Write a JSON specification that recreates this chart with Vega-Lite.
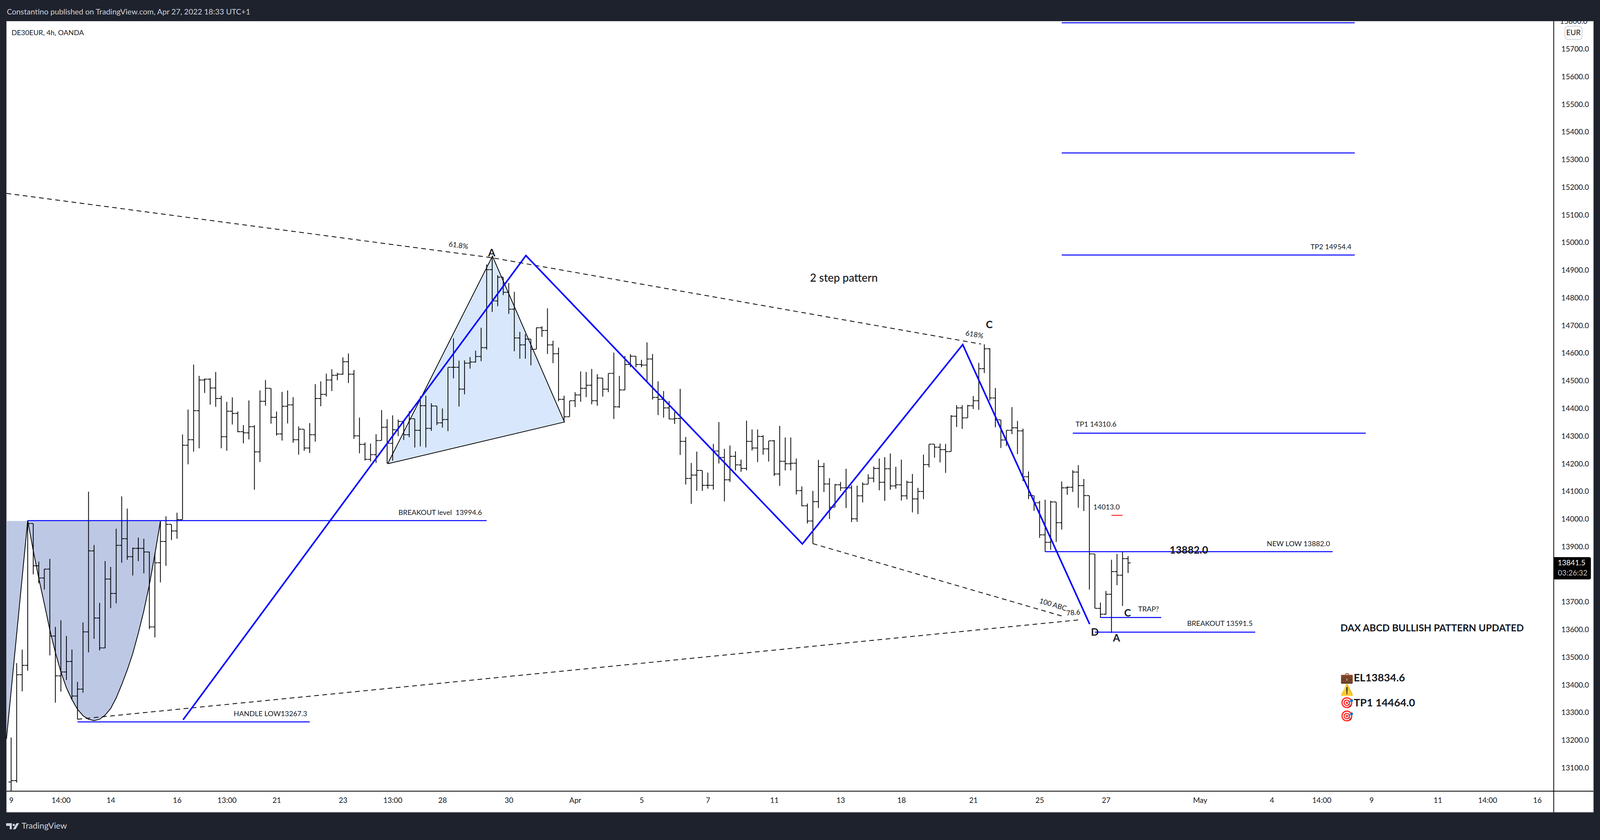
{
  "$schema": "https://vega.github.io/schema/vega-lite/v6.json",
  "width": "container",
  "height": 2150,
  "autosize": {"type": "fit-x", "contains": "padding"},
  "padding": 0,
  "background": "#1e222d",
  "view": {"stroke": null},
  "params": [{"name": "k", "expr": "width/4948"}],
  "config": {"text": {"font": "Lato", "color": "#131722"}},
  "datasets": {
    "bars": [
      {"t":0,"o":13049,"h":13210,"l":13017,"c":13054},{"t":1,"o":13054,"h":13479,"l":13047,"c":13437},{"t":2,"o":13437,"h":13528,"l":13377,"c":13471},{"t":3,"o":13471,"h":13993,"l":13452,"c":13984},{"t":4,"o":13984,"h":13984,"l":13800,"c":13831},{"t":5,"o":13831,"h":13846,"l":13768,"c":13787},{"t":6,"o":13787,"h":13820,"l":13745,"c":13819},{"t":7,"o":13819,"h":13856,"l":13507,"c":13577},{"t":8,"o":13577,"h":13610,"l":13336,"c":13433},{"t":9,"o":13433,"h":13634,"l":13376,"c":13447},
      {"t":10,"o":13447,"h":13577,"l":13418,"c":13485},{"t":11,"o":13485,"h":13528,"l":13348,"c":13360},{"t":12,"o":13360,"h":13411,"l":13276,"c":13385},{"t":13,"o":13385,"h":13626,"l":13372,"c":13592},{"t":14,"o":13592,"h":14099,"l":13518,"c":13885},{"t":15,"o":13885,"h":13906,"l":13567,"c":13642},{"t":16,"o":13642,"h":13697,"l":13525,"c":13534},{"t":17,"o":13534,"h":13848,"l":13533,"c":13783},{"t":18,"o":13783,"h":13827,"l":13678,"c":13731},{"t":19,"o":13731,"h":13965,"l":13695,"c":13905},
      {"t":20,"o":13905,"h":14082,"l":13842,"c":13929},{"t":21,"o":13929,"h":14038,"l":13853,"c":13864},{"t":22,"o":13864,"h":13897,"l":13796,"c":13894},{"t":23,"o":13894,"h":13933,"l":13848,"c":13894},{"t":24,"o":13894,"h":13929,"l":13804,"c":13881},{"t":25,"o":13881,"h":13882,"l":13602,"c":13610},{"t":26,"o":13610,"h":13877,"l":13572,"c":13842},{"t":27,"o":13842,"h":13992,"l":13771,"c":13919},{"t":28,"o":13919,"h":14010,"l":13831,"c":13981},{"t":29,"o":13981,"h":13981,"l":13924,"c":13957},
      {"t":30,"o":13957,"h":14023,"l":13929,"c":13998},{"t":31,"o":13998,"h":14306,"l":13998,"c":14267},{"t":32,"o":14267,"h":14396,"l":14198,"c":14287},{"t":33,"o":14287,"h":14559,"l":14244,"c":14392},{"t":34,"o":14392,"h":14518,"l":14256,"c":14503},{"t":35,"o":14503,"h":14508,"l":14456,"c":14506},{"t":36,"o":14506,"h":14509,"l":14414,"c":14474},{"t":37,"o":14474,"h":14532,"l":14406,"c":14436},{"t":38,"o":14436,"h":14446,"l":14256,"c":14298},{"t":39,"o":14298,"h":14424,"l":14247,"c":14390},
      {"t":40,"o":14390,"h":14440,"l":14342,"c":14382},{"t":41,"o":14382,"h":14389,"l":14314,"c":14316},{"t":42,"o":14316,"h":14340,"l":14274,"c":14312},{"t":43,"o":14312,"h":14429,"l":14288,"c":14334},{"t":44,"o":14334,"h":14340,"l":14106,"c":14243},{"t":45,"o":14243,"h":14465,"l":14206,"c":14426},{"t":46,"o":14426,"h":14503,"l":14410,"c":14473},{"t":47,"o":14473,"h":14473,"l":14345,"c":14368},{"t":48,"o":14368,"h":14389,"l":14302,"c":14308},{"t":49,"o":14308,"h":14460,"l":14284,"c":14408},
      {"t":50,"o":14408,"h":14465,"l":14346,"c":14413},{"t":51,"o":14413,"h":14441,"l":14276,"c":14287},{"t":52,"o":14287,"h":14335,"l":14233,"c":14325},{"t":53,"o":14325,"h":14325,"l":14247,"c":14257},{"t":54,"o":14257,"h":14347,"l":14239,"c":14305},{"t":55,"o":14305,"h":14488,"l":14280,"c":14436},{"t":56,"o":14436,"h":14498,"l":14408,"c":14451},{"t":57,"o":14451,"h":14526,"l":14443,"c":14503},{"t":58,"o":14503,"h":14542,"l":14463,"c":14520},{"t":59,"o":14520,"h":14529,"l":14502,"c":14524},
      {"t":60,"o":14524,"h":14585,"l":14522,"c":14569},{"t":61,"o":14569,"h":14599,"l":14492,"c":14524},{"t":62,"o":14524,"h":14539,"l":14290,"c":14301},{"t":63,"o":14301,"h":14367,"l":14238,"c":14270},{"t":64,"o":14270,"h":14277,"l":14212,"c":14216},{"t":65,"o":14216,"h":14273,"l":14208,"c":14233},{"t":66,"o":14233,"h":14307,"l":14203,"c":14284},{"t":67,"o":14284,"h":14394,"l":14284,"c":14332},{"t":68,"o":14332,"h":14361,"l":14201,"c":14274},{"t":69,"o":14274,"h":14375,"l":14211,"c":14323},
      {"t":70,"o":14323,"h":14360,"l":14300,"c":14353},{"t":71,"o":14353,"h":14353,"l":14286,"c":14305},{"t":72,"o":14305,"h":14390,"l":14296,"c":14363},{"t":73,"o":14363,"h":14363,"l":14259,"c":14321},{"t":74,"o":14321,"h":14444,"l":14263,"c":14410},{"t":75,"o":14410,"h":14446,"l":14259,"c":14328},{"t":76,"o":14328,"h":14419,"l":14319,"c":14409},{"t":77,"o":14409,"h":14409,"l":14340,"c":14348},{"t":78,"o":14348,"h":14400,"l":14331,"c":14360},{"t":79,"o":14360,"h":14549,"l":14318,"c":14549},
      {"t":80,"o":14549,"h":14654,"l":14509,"c":14549},{"t":81,"o":14549,"h":14573,"l":14407,"c":14470},{"t":82,"o":14470,"h":14574,"l":14451,"c":14564},{"t":83,"o":14564,"h":14586,"l":14544,"c":14568},{"t":84,"o":14568,"h":14609,"l":14566,"c":14588},{"t":85,"o":14588,"h":14692,"l":14571,"c":14620},{"t":86,"o":14620,"h":14921,"l":14613,"c":14902},{"t":87,"o":14902,"h":14951,"l":14749,"c":14789},{"t":88,"o":14789,"h":14882,"l":14770,"c":14875},{"t":89,"o":14875,"h":14875,"l":14810,"c":14820},
      {"t":90,"o":14820,"h":14854,"l":14742,"c":14759},{"t":91,"o":14759,"h":14822,"l":14607,"c":14655},{"t":92,"o":14655,"h":14677,"l":14580,"c":14630},{"t":93,"o":14630,"h":14669,"l":14580,"c":14651},{"t":94,"o":14651,"h":14651,"l":14556,"c":14614},{"t":95,"o":14614,"h":14693,"l":14614,"c":14692},{"t":96,"o":14692,"h":14697,"l":14659,"c":14682},{"t":97,"o":14682,"h":14762,"l":14597,"c":14630},{"t":98,"o":14630,"h":14645,"l":14564,"c":14598},{"t":99,"o":14598,"h":14620,"l":14426,"c":14433},
      {"t":100,"o":14433,"h":14446,"l":14351,"c":14370},{"t":101,"o":14370,"h":14428,"l":14370,"c":14428},{"t":102,"o":14428,"h":14459,"l":14405,"c":14449},{"t":103,"o":14449,"h":14534,"l":14424,"c":14473},{"t":104,"o":14473,"h":14532,"l":14441,"c":14484},{"t":105,"o":14484,"h":14543,"l":14415,"c":14428},{"t":106,"o":14428,"h":14524,"l":14410,"c":14510},{"t":107,"o":14510,"h":14510,"l":14443,"c":14470},{"t":108,"o":14470,"h":14527,"l":14459,"c":14527},{"t":109,"o":14527,"h":14602,"l":14362,"c":14406},
      {"t":110,"o":14406,"h":14518,"l":14402,"c":14467},{"t":111,"o":14467,"h":14590,"l":14466,"c":14559},{"t":112,"o":14559,"h":14596,"l":14549,"c":14589},{"t":113,"o":14589,"h":14589,"l":14549,"c":14559},{"t":114,"o":14559,"h":14576,"l":14549,"c":14557},{"t":115,"o":14557,"h":14639,"l":14497,"c":14579},{"t":116,"o":14579,"h":14597,"l":14432,"c":14440},{"t":117,"o":14440,"h":14498,"l":14376,"c":14433},{"t":118,"o":14433,"h":14463,"l":14367,"c":14402},{"t":119,"o":14402,"h":14427,"l":14361,"c":14362},
      {"t":120,"o":14362,"h":14387,"l":14344,"c":14364},{"t":121,"o":14364,"h":14471,"l":14232,"c":14281},{"t":122,"o":14281,"h":14297,"l":14125,"c":14147},{"t":123,"o":14147,"h":14203,"l":14055,"c":14159},{"t":124,"o":14159,"h":14244,"l":14102,"c":14176},{"t":125,"o":14176,"h":14176,"l":14102,"c":14122},{"t":126,"o":14122,"h":14168,"l":14110,"c":14122},{"t":127,"o":14122,"h":14272,"l":14106,"c":14246},{"t":128,"o":14246,"h":14351,"l":14201,"c":14223},{"t":129,"o":14223,"h":14254,"l":14064,"c":14142},
      {"t":130,"o":14142,"h":14266,"l":14134,"c":14227},{"t":131,"o":14227,"h":14245,"l":14176,"c":14196},{"t":132,"o":14196,"h":14215,"l":14171,"c":14183},{"t":133,"o":14183,"h":14356,"l":14176,"c":14281},{"t":134,"o":14281,"h":14324,"l":14248,"c":14257},{"t":135,"o":14257,"h":14324,"l":14206,"c":14299},{"t":136,"o":14299,"h":14303,"l":14233,"c":14254},{"t":137,"o":14254,"h":14283,"l":14208,"c":14283},{"t":138,"o":14283,"h":14286,"l":14156,"c":14163},{"t":139,"o":14163,"h":14337,"l":14120,"c":14209},
      {"t":140,"o":14209,"h":14295,"l":14176,"c":14200},{"t":141,"o":14200,"h":14295,"l":14176,"c":14202},{"t":142,"o":14202,"h":14219,"l":14089,"c":14103},{"t":143,"o":14103,"h":14118,"l":14046,"c":14048},{"t":144,"o":14048,"h":14056,"l":13984,"c":13993},{"t":145,"o":13993,"h":14102,"l":13911,"c":14063},{"t":146,"o":14063,"h":14214,"l":14040,"c":14190},{"t":147,"o":14190,"h":14203,"l":14098,"c":14127},{"t":148,"o":14127,"h":14148,"l":14000,"c":14043},{"t":149,"o":14043,"h":14127,"l":14043,"c":14124},
      {"t":150,"o":14124,"h":14134,"l":14102,"c":14113},{"t":151,"o":14113,"h":14182,"l":14040,"c":14113},{"t":152,"o":14113,"h":14122,"l":13989,"c":14001},{"t":153,"o":14001,"h":14121,"l":13990,"c":14084},{"t":154,"o":14084,"h":14133,"l":14060,"c":14126},{"t":155,"o":14126,"h":14162,"l":14126,"c":14148},{"t":156,"o":14148,"h":14190,"l":14133,"c":14183},{"t":157,"o":14183,"h":14219,"l":14104,"c":14133},{"t":158,"o":14133,"h":14224,"l":14066,"c":14182},{"t":159,"o":14182,"h":14237,"l":14106,"c":14120},
      {"t":160,"o":14120,"h":14189,"l":14110,"c":14124},{"t":161,"o":14124,"h":14215,"l":14067,"c":14084},{"t":162,"o":14084,"h":14139,"l":14071,"c":14133},{"t":163,"o":14133,"h":14163,"l":14024,"c":14073},{"t":164,"o":14073,"h":14113,"l":14018,"c":14100},{"t":165,"o":14100,"h":14233,"l":14072,"c":14197},{"t":166,"o":14197,"h":14271,"l":14187,"c":14271},{"t":167,"o":14271,"h":14271,"l":14222,"c":14260},{"t":168,"o":14260,"h":14273,"l":14205,"c":14251},{"t":169,"o":14251,"h":14272,"l":14167,"c":14244},
      {"t":170,"o":14244,"h":14376,"l":14244,"c":14372},{"t":171,"o":14372,"h":14412,"l":14333,"c":14402},{"t":172,"o":14402,"h":14412,"l":14326,"c":14366},{"t":173,"o":14366,"h":14413,"l":14366,"c":14410},{"t":174,"o":14410,"h":14445,"l":14398,"c":14428},{"t":175,"o":14428,"h":14565,"l":14395,"c":14544},{"t":176,"o":14544,"h":14632,"l":14528,"c":14616},{"t":177,"o":14616,"h":14618,"l":14429,"c":14438},{"t":178,"o":14438,"h":14474,"l":14332,"c":14359},{"t":179,"o":14359,"h":14359,"l":14257,"c":14286},
      {"t":180,"o":14286,"h":14322,"l":14264,"c":14321},{"t":181,"o":14321,"h":14405,"l":14307,"c":14330},{"t":182,"o":14330,"h":14355,"l":14235,"c":14319},{"t":183,"o":14319,"h":14327,"l":14137,"c":14153},{"t":184,"o":14153,"h":14172,"l":14072,"c":14085},{"t":185,"o":14085,"h":14085,"l":14030,"c":14059},{"t":186,"o":14059,"h":14066,"l":13932,"c":13943},{"t":187,"o":13943,"h":14070,"l":13882,"c":13916},{"t":188,"o":13916,"h":14066,"l":13889,"c":14062},{"t":189,"o":14062,"h":14062,"l":13917,"c":13987},
      {"t":190,"o":13987,"h":14136,"l":13962,"c":14113},{"t":191,"o":14113,"h":14118,"l":14088,"c":14115},{"t":192,"o":14115,"h":14177,"l":14098,"c":14170},{"t":193,"o":14170,"h":14195,"l":14041,"c":14121},{"t":194,"o":14121,"h":14145,"l":14029,"c":14085},{"t":195,"o":14085,"h":14085,"l":13745,"c":13874},{"t":196,"o":13874,"h":13874,"l":13677,"c":13677},{"t":197,"o":13677,"h":13698,"l":13643,"c":13656},{"t":198,"o":13656,"h":13740,"l":13654,"c":13728},{"t":199,"o":13728,"h":13853,"l":13588,"c":13810},
      {"t":200,"o":13810,"h":13874,"l":13761,"c":13797},{"t":201,"o":13797,"h":13881,"l":13686,"c":13857},{"t":202,"o":13857,"h":13866,"l":13805,"c":13841.5}
    ],
    "cup": [
      {"t":-0.84,"p":13205,"top":13993},{"t":3,"p":13995,"top":13993},{"t":4,"p":13886,"top":13993},{"t":5,"p":13786,"top":13993},{"t":6,"p":13694,"top":13993},{"t":7,"p":13599,"top":13993},{"t":8,"p":13518,"top":13993},{"t":9,"p":13447,"top":13993},{"t":10,"p":13390,"top":13993},{"t":11,"p":13347,"top":13993},{"t":12,"p":13312,"top":13993},{"t":13,"p":13289,"top":13993},{"t":14,"p":13276,"top":13993},{"t":15,"p":13271,"top":13993},{"t":16,"p":13276,"top":13993},{"t":17,"p":13291,"top":13993},{"t":18,"p":13315,"top":13993},{"t":19,"p":13353,"top":13993},{"t":20,"p":13401,"top":13993},{"t":21,"p":13454,"top":13993},{"t":22,"p":13514,"top":13993},{"t":23,"p":13587,"top":13993},{"t":24,"p":13668,"top":13993},{"t":25,"p":13762,"top":13993},{"t":26,"p":13873,"top":13993},{"t":27,"p":13992,"top":13993}
    ],
    "triangleFill": [
      {"t":68.1,"p":14200,"top":14200},{"t":87.05,"p":14290,"top":14951},{"t":100.07,"p":14351,"top":14351}
    ],
    "triangleEdge": [
      {"seq":0,"t":68.1,"p":14200},{"seq":1,"t":87.05,"p":14951},{"seq":2,"t":100.07,"p":14351},{"seq":3,"t":68.1,"p":14200}
    ],
    "trend": [
      {"name":"upper","seq":0,"t":-0.84,"p":15178},{"name":"upper","seq":1,"t":87,"p":14945},{"name":"upper","seq":2,"t":175.4,"p":14633},
      {"name":"lower","seq":0,"t":145,"p":13911},{"name":"lower","seq":1,"t":190.6,"p":13646},
      {"name":"rising","seq":0,"t":12,"p":13276},{"name":"rising","seq":1,"t":193.4,"p":13636}
    ],
    "zigzag": [
      {"seq":0,"t":31.1,"p":13274},{"seq":1,"t":93.1,"p":14953},{"seq":2,"t":143.1,"p":13910},{"seq":3,"t":172.1,"p":14631},{"seq":4,"t":195.05,"p":13620}
    ],
    "levels": [
      {"t":3,"t2":86,"p":13994.6},{"t":12,"t2":54,"p":13266.5},{"t":190,"t2":243,"p":15795},{"t":190,"t2":243,"p":15324},{"t":190,"t2":243,"p":14955},{"t":192,"t2":245,"p":14310.6},{"t":187,"t2":239,"p":13882},{"t":197,"t2":208,"p":13644},{"t":196,"t2":225,"p":13591}
    ],
    "notes": [
      {"label":"HANDLE LOW13267.3","t":46.9,"p":13294},{"label":"BREAKOUT level \u00a013994.6","t":77.6,"p":14022},{"label":"TP1 14310.6","t":196.2,"p":14341},{"label":"TP2 14954.4","t":238.7,"p":14983.5},{"label":"14013.0","t":198.1,"p":14042},{"label":"NEW LOW 13882.0","t":232.8,"p":13909},{"label":"TRAP?","t":205.7,"p":13673},{"label":"BREAKOUT 13591.5","t":218.6,"p":13620}
    ],
    "points": [
      {"label":"A","t":86.9,"p":14962},{"label":"C","t":176.9,"p":14701},{"label":"D","t":196,"p":13590},{"label":"A","t":199.9,"p":13568},{"label":"C","t":201.9,"p":13659},{"label":"13882.0","t":213,"p":13886}
    ],
    "setup": [
      {"label":"💼EL13834.6","t":240.4,"p":13424},{"label":"⚠️","t":240.4,"p":13380.5},{"label":"🎯TP1 14464.0","t":240.4,"p":13334},{"label":"🎯","t":240.4,"p":13286}
    ]
  },
  "encoding": {
    "x": {
      "field": "t",
      "type": "quantitative",
      "scale": {"domain": [-2.012, 287.35], "nice": false, "zero": false},
      "axis": {
        "title": null,
        "orient": "bottom",
        "offset": -125,
        "domain": false,
        "grid": false,
        "ticks": false,
        "zindex": 1,
        "labelFont": "Lato",
        "labelFontSize": {"expr": "23*k"},
        "labelColor": "#131722",
        "labelPadding": 14,
        "labelFlush": false,
        "labelOverlap": false,
        "values": [0, 9, 18, 30, 39, 48, 60, 69, 78, 90, 102, 114, 126, 138, 150, 161, 174, 186, 198, 215, 228, 237, 246, 258, 267, 276],
        "labelExpr": "{'0':'9','9':'14:00','18':'14','30':'16','39':'13:00','48':'21','60':'23','69':'13:00','78':'28','90':'30','102':'Apr','114':'5','126':'7','138':'11','150':'13','161':'18','174':'21','186':'25','198':'27','215':'May','228':'4','237':'14:00','246':'9','258':'11','267':'14:00','276':'16'}[datum.value]"
      }
    },
    "y": {
      "field": "p",
      "type": "quantitative",
      "scale": {"domain": [12839.3, 15877.3], "nice": false, "zero": false},
      "axis": {"title": null, "orient": "right", "offset": {"expr": "-143*width/4948"}, "domain": false, "grid": false, "ticks": false, "zindex": 1, "labelFont": "Lato", "labelFontSize": {"expr": "23*k"}, "labelColor": "#131722", "labelPadding": 19, "labelFlush": false, "labelOverlap": false, "format": ".1f", "values": [13100, 13200, 13300, 13400, 13500, 13600, 13700, 13900, 14000, 14100, 14200, 14300, 14400, 14500, 14600, 14700, 14800, 14900, 15000, 15100, 15200, 15300, 15400, 15500, 15600, 15700]}
    }
  },
  "layer": [
    {
      "data": {"values": [{"t": -0.842, "t2": 286.17, "p": 12939.6, "p2": 15801}]},
      "mark": {"type": "rect", "fill": "#ffffff", "stroke": "#9598a1", "strokeWidth": 1, "opacity": 1},
      "encoding": {"x2": {"field": "t2"}, "y2": {"field": "p2"}}
    },
    {
      "data": {"values": [{"label": "15800.0", "t": 280.09, "p": 15800}]},
      "mark": {"type": "text", "fontSize": {"expr": "23*k"}, "align": "left"},
      "encoding": {"text": {"field": "label"}}
    },
    {
      "data": {"values": [{"t": -2.012, "t2": 287.35, "p": 15801, "p2": 15877.3}]},
      "mark": {"type": "rect", "color": "#1e222d", "opacity": 1},
      "encoding": {"x2": {"field": "t2"}, "y2": {"field": "p2"}}
    },
    {
      "data": {"values": [{"t": -0.842, "t2": 286.17, "p": 13016}]},
      "mark": {"type": "rule", "color": "#000000", "strokeWidth": 2},
      "encoding": {"x2": {"field": "t2"}}
    },
    {
      "data": {"values": [{"t": 278.98, "p": 12939.6, "p2": 15801}]},
      "mark": {"type": "rule", "color": "#000000", "strokeWidth": 2},
      "encoding": {"y2": {"field": "p2"}}
    },
    {
      "data": {"name": "cup"},
      "mark": {"type": "area", "color": "#bdc8e4", "opacity": 1},
      "encoding": {"y2": {"field": "top"}}
    },
    {
      "data": {"name": "triangleFill"},
      "mark": {"type": "area", "color": "#d8e7fb", "opacity": 1},
      "encoding": {"y2": {"field": "top"}}
    },
    {
      "data": {"name": "cup"},
      "mark": {"type": "line", "color": "#000000", "strokeWidth": 2, "interpolate": "linear"}
    },
    {
      "data": {"name": "triangleEdge"},
      "mark": {"type": "line", "color": "#000000", "strokeWidth": 2},
      "encoding": {"order": {"field": "seq"}}
    },
    {
      "data": {"name": "trend"},
      "mark": {"type": "line", "color": "#000000", "strokeWidth": 2, "strokeDash": [12, 9]},
      "encoding": {"detail": {"field": "name"}, "order": {"field": "seq"}}
    },
    {
      "data": {"name": "bars"},
      "mark": {"type": "rule", "color": "#000000", "strokeWidth": 2},
      "encoding": {
        "y": {"field": "h", "type": "quantitative", "scale": {"domain": [12839.3, 15877.3], "nice": false, "zero": false},
          "axis": {"title": null, "orient": "right", "offset": {"expr": "-143*width/4948"}, "domain": false, "grid": false, "ticks": false, "zindex": 1, "labelFont": "Lato", "labelFontSize": {"expr": "23*k"}, "labelColor": "#131722", "labelPadding": 19, "labelFlush": false, "labelOverlap": false, "format": ".1f", "values": [13100, 13200, 13300, 13400, 13500, 13600, 13700, 13900, 14000, 14100, 14200, 14300, 14400, 14500, 14600, 14700, 14800, 14900, 15000, 15100, 15200, 15300, 15400, 15500, 15600, 15700]}},
        "y2": {"field": "l"}
      }
    },
    {
      "data": {"name": "bars"},
      "mark": {"type": "tick", "orient": "horizontal", "color": "#000000", "size": {"expr": "7*k"}, "thickness": 2, "xOffset": {"expr": "-4.5*k"}, "opacity": 1},
      "encoding": {
        "y": {"field": "o", "type": "quantitative", "scale": {"domain": [12839.3, 15877.3], "nice": false, "zero": false},
          "axis": {"title": null, "orient": "right", "offset": {"expr": "-143*width/4948"}, "domain": false, "grid": false, "ticks": false, "zindex": 1, "labelFont": "Lato", "labelFontSize": {"expr": "23*k"}, "labelColor": "#131722", "labelPadding": 19, "labelFlush": false, "labelOverlap": false, "format": ".1f", "values": [13100, 13200, 13300, 13400, 13500, 13600, 13700, 13900, 14000, 14100, 14200, 14300, 14400, 14500, 14600, 14700, 14800, 14900, 15000, 15100, 15200, 15300, 15400, 15500, 15600, 15700]}}
      }
    },
    {
      "data": {"name": "bars"},
      "mark": {"type": "tick", "orient": "horizontal", "color": "#000000", "size": {"expr": "7*k"}, "thickness": 2, "xOffset": {"expr": "4.5*k"}, "opacity": 1},
      "encoding": {
        "y": {"field": "c", "type": "quantitative", "scale": {"domain": [12839.3, 15877.3], "nice": false, "zero": false},
          "axis": {"title": null, "orient": "right", "offset": {"expr": "-143*width/4948"}, "domain": false, "grid": false, "ticks": false, "zindex": 1, "labelFont": "Lato", "labelFontSize": {"expr": "23*k"}, "labelColor": "#131722", "labelPadding": 19, "labelFlush": false, "labelOverlap": false, "format": ".1f", "values": [13100, 13200, 13300, 13400, 13500, 13600, 13700, 13900, 14000, 14100, 14200, 14300, 14400, 14500, 14600, 14700, 14800, 14900, 15000, 15100, 15200, 15300, 15400, 15500, 15600, 15700]}}
      }
    },
    {
      "data": {"name": "zigzag"},
      "mark": {"type": "line", "color": "#0000ff", "strokeWidth": 4, "strokeJoin": "miter"},
      "encoding": {"order": {"field": "seq"}}
    },
    {
      "data": {"name": "levels"},
      "mark": {"type": "rule", "color": "#0000ff", "strokeWidth": 2.5},
      "encoding": {"x2": {"field": "t2"}}
    },
    {
      "data": {"values": [{"t": 199, "t2": 201, "p": 14013.7}]},
      "mark": {"type": "rule", "color": "#ff0000", "strokeWidth": 2},
      "encoding": {"x2": {"field": "t2"}}
    },
    {
      "data": {"name": "notes"},
      "mark": {"type": "text", "fontSize": {"expr": "22*k"}},
      "encoding": {"text": {"field": "label"}}
    },
    {
      "data": {"name": "points"},
      "mark": {"type": "text", "fontSize": {"expr": "32*k"}, "fontWeight": "bold"},
      "encoding": {"text": {"field": "label"}}
    },
    {
      "data": {"values": [{"label": "2 step pattern", "t": 150.6, "p": 14870}]},
      "mark": {"type": "text", "fontSize": {"expr": "34*k"}, "fontWeight": 500},
      "encoding": {"text": {"field": "label"}}
    },
    {
      "data": {"name": "setup"},
      "mark": {"type": "text", "fontSize": {"expr": "33*k"}, "fontWeight": "bold", "align": "left"},
      "encoding": {"text": {"field": "label"}}
    },
    {
      "data": {"values": [{"label": "DAX ABCD BULLISH PATTERN UPDATED", "t": 240.4, "p": 13604}]},
      "mark": {"type": "text", "fontSize": {"expr": "30*k"}, "fontWeight": "bold", "align": "left"},
      "encoding": {"text": {"field": "label"}}
    },
    {
      "data": {"values": [{"label": "DE30EUR, 4h, OANDA", "t": 0.07, "p": 15757}]},
      "mark": {"type": "text", "fontSize": {"expr": "22*k"}, "align": "left"},
      "encoding": {"text": {"field": "label"}}
    },
    {
      "data": {"values": [{"label": "Constantino published on TradingView.com, Apr 27, 2022 18:33 UTC+1", "t": -0.78, "p": 15833.5}]},
      "mark": {"type": "text", "fontSize": {"expr": "24*k"}, "align": "left", "color": "#d1d4dc"},
      "encoding": {"text": {"field": "label"}}
    },
    {
      "data": {"values": [{"label": "61.8%", "t": 80.9, "p": 14988.5}]},
      "mark": {"type": "text", "fontSize": {"expr": "22*k"}, "angle": 8},
      "encoding": {"text": {"field": "label"}}
    },
    {
      "data": {"values": [{"label": "618%", "t": 174.2, "p": 14666}]},
      "mark": {"type": "text", "fontSize": {"expr": "22*k"}, "angle": 10},
      "encoding": {"text": {"field": "label"}}
    },
    {
      "data": {"values": [{"label": "100 ABC", "t": 188.4, "p": 13689}]},
      "mark": {"type": "text", "fontSize": {"expr": "22*k"}, "angle": 17},
      "encoding": {"text": {"field": "label"}}
    },
    {
      "data": {"values": [{"label": "78.6", "t": 192.1, "p": 13660}]},
      "mark": {"type": "text", "fontSize": {"expr": "22*k"}, "angle": -5},
      "encoding": {"text": {"field": "label"}}
    },
    {
      "data": {"values": [{"t": 281, "t2": 284.1, "p": 15734.6, "p2": 15782.7}]},
      "mark": {"type": "rect", "fill": "#ffffff", "stroke": "#d1d4dc", "strokeWidth": 2, "cornerRadius": 8, "opacity": 1},
      "encoding": {"x2": {"field": "t2"}, "y2": {"field": "p2"}}
    },
    {
      "data": {"values": [{"label": "EUR", "t": 282.55, "p": 15758.5}]},
      "mark": {"type": "text", "fontSize": {"expr": "23*k"}},
      "encoding": {"text": {"field": "label"}}
    },
    {
      "data": {"values": [{"t": 278.98, "t2": 285.7, "p": 13781.8, "p2": 13862.4}]},
      "mark": {"type": "rect", "color": "#000000", "opacity": 1, "cornerRadiusTopRight": 4, "cornerRadiusBottomRight": 4},
      "encoding": {"x2": {"field": "t2"}, "y2": {"field": "p2"}}
    },
    {
      "data": {"values": [{"label": "13841.5", "t": 282.2, "p": 13841.5}]},
      "mark": {"type": "text", "fontSize": {"expr": "23*k"}, "color": "#ffffff"},
      "encoding": {"text": {"field": "label"}}
    },
    {
      "data": {"values": [{"label": "03:26:32", "t": 282.4, "p": 13803.7}]},
      "mark": {"type": "text", "fontSize": {"expr": "23*k"}, "color": "#c8c8c8"},
      "encoding": {"text": {"field": "label"}}
    },
    {
      "data": {"values": [{"label": "TradingView", "t": 6, "p": 12889}]},
      "mark": {"type": "text", "fontSize": {"expr": "26*k"}, "color": "#d1d4dc"},
      "encoding": {"text": {"field": "label"}}
    },
    {
      "data": {"values": [{"t": 0.27, "p": 12889}]},
      "mark": {"type": "point", "filled": true, "opacity": 1, "color": "#d1d4dc", "size": {"expr": "1600*k*k"}, "shape": "M-1,-0.47 L-0.12,-0.47 L-0.12,0.47 L-0.45,0.47 L-0.45,-0.05 L-1,-0.05 Z M0,-0.2 A0.18,0.18 0 1 1 0.36,-0.2 A0.18,0.18 0 1 1 0,-0.2 Z M1,-0.47 L0.45,0.47 L0.05,0.47 L0.6,-0.47 Z"}
    }
  ]
}
